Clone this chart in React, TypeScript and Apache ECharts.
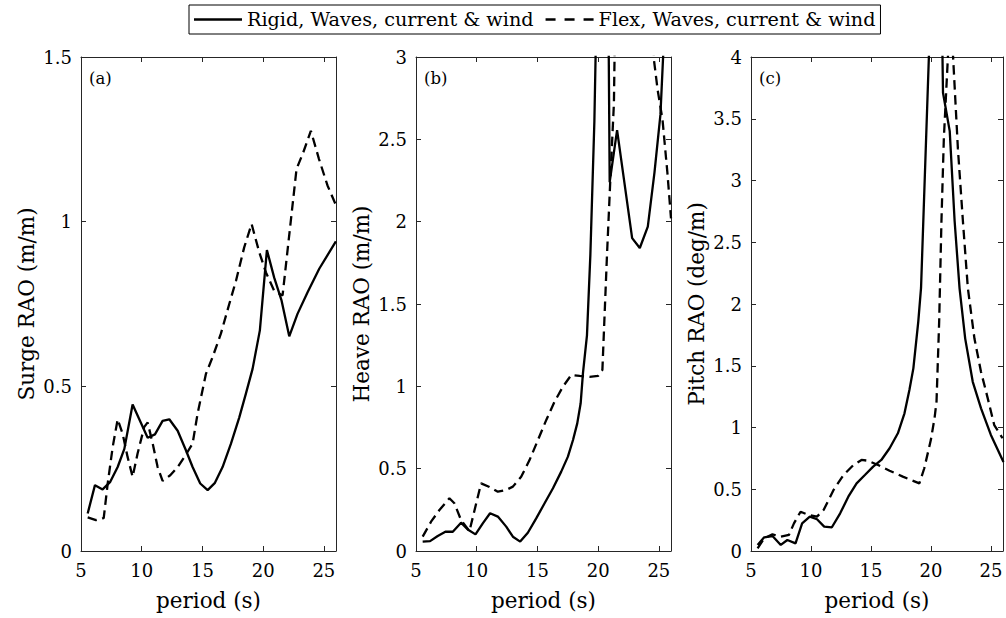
import React, { useEffect, useRef } from 'react';
import * as echarts from 'echarts';

const legendNames = ['Rigid, Waves, current & wind', 'Flex, Waves, current & wind'];
const panelTags = ['(a)', '(b)', '(c)'];
const yLabels = ['Surge RAO (m/m)', 'Heave RAO (m/m)', 'Pitch RAO (deg/m)'];
const xLabel = 'period (s)';
const periodTicks = [5, 10, 15, 20, 25];
const yMaxes = [1.5, 3, 4];

const surgeRigid = [
  [5.55, 0.114], [6.15, 0.2], [6.78, 0.187], [7.41, 0.21], [8.02, 0.255], [8.57, 0.31],
  [9.25, 0.445], [10.49, 0.344], [11.09, 0.354], [11.72, 0.395], [12.27, 0.4], [12.96, 0.365],
  [13.64, 0.306], [14.19, 0.255], [14.82, 0.205], [15.43, 0.185], [16.03, 0.207], [16.66, 0.255],
  [17.35, 0.326], [18.03, 0.405], [18.58, 0.478], [19.13, 0.553], [19.73, 0.67], [20.31, 0.914],
  [20.91, 0.83], [21.52, 0.76], [22.15, 0.652], [22.83, 0.72], [23.66, 0.786], [24.62, 0.857],
  [25.99, 0.94],
];
const surgeFlex = [
  [5.55, 0.102], [6.23, 0.094], [6.87, 0.1], [7.2, 0.205], [7.61, 0.316], [8.02, 0.4],
  [8.43, 0.356], [8.84, 0.285], [9.25, 0.225], [9.66, 0.296], [10.21, 0.377], [10.49, 0.39],
  [10.9, 0.327], [11.31, 0.255], [11.72, 0.213], [12.35, 0.23], [12.96, 0.255], [13.56, 0.288],
  [14.19, 0.326], [14.6, 0.417], [15.29, 0.538], [15.84, 0.589], [16.52, 0.66], [17.21, 0.75],
  [17.76, 0.82], [18.44, 0.922], [19.05, 0.993], [19.68, 0.907], [20.23, 0.846], [20.91, 0.79],
  [21.6, 0.776], [22.75, 1.16], [23.3, 1.21], [23.93, 1.276], [24.6, 1.19], [25.3, 1.11],
  [26, 1.05],
];
const heaveRigid = [
  [5.55, 0.057], [6.16, 0.06], [6.79, 0.091], [7.42, 0.117], [8.03, 0.117], [8.71, 0.172],
  [9.26, 0.131], [9.9, 0.101], [10.5, 0.168], [11.1, 0.229], [11.74, 0.209], [12.43, 0.148],
  [12.98, 0.087], [13.58, 0.057], [14.21, 0.111], [14.9, 0.198], [15.59, 0.29], [16.28, 0.381],
  [16.96, 0.482], [17.51, 0.573], [17.93, 0.674], [18.28, 0.775], [18.56, 0.897], [18.75, 1.08],
  [19.08, 1.31], [19.36, 1.8], [19.69, 2.61], [20.35, 5.2], [20.87, 3.05], [20.95, 2.24],
  [21.56, 2.556], [22.8, 1.9], [23.43, 1.84], [24.09, 1.97], [24.64, 2.3], [25.13, 2.65],
  [25.6, 3.4], [26, 4.2],
];
const heaveFlex = [
  [5.55, 0.087], [6.24, 0.178], [6.93, 0.249], [7.75, 0.32], [8.16, 0.29], [8.71, 0.188],
  [9.4, 0.12], [10.36, 0.411], [11.05, 0.389], [11.74, 0.36], [12.43, 0.371], [12.98, 0.391],
  [13.66, 0.451], [14.35, 0.552], [15.04, 0.674], [15.73, 0.796], [16.41, 0.907], [17.1, 0.998],
  [17.79, 1.069], [18.48, 1.063], [19.3, 1.058], [19.99, 1.063], [20.35, 1.1], [20.73, 1.8],
  [21.0, 2.25], [21.3, 2.72], [21.9, 6], [23.0, 6], [24.0, 4.0], [24.6, 2.98], [24.9, 2.8],
  [25.3, 2.62], [25.7, 2.3], [26, 2.02],
];
const pitchRigid = [
  [5.55, 0.049], [6.1, 0.111], [6.79, 0.121], [7.48, 0.049], [8.03, 0.089], [8.71, 0.062],
  [9.26, 0.224], [9.9, 0.278], [10.5, 0.257], [11.1, 0.197], [11.74, 0.192], [12.43, 0.305],
  [13.11, 0.44], [13.8, 0.548], [14.49, 0.615], [15.18, 0.683], [15.86, 0.737], [16.55, 0.832],
  [17.24, 0.953], [17.79, 1.115], [18.2, 1.304], [18.53, 1.479], [18.94, 1.857], [19.17, 2.13],
  [19.83, 4.02], [20.4, 10], [20.95, 4.05], [21.0, 3.71], [21.56, 3.4], [21.97, 2.67],
  [22.38, 2.127], [22.85, 1.72], [23.48, 1.37], [24.17, 1.155], [24.99, 0.94], [26.04, 0.72],
];
const pitchFlex = [
  [5.55, 0.022], [6.1, 0.103], [6.79, 0.135], [7.48, 0.116], [8.16, 0.13], [8.58, 0.224],
  [9.13, 0.318], [9.81, 0.292], [10.5, 0.278], [11.05, 0.332], [11.88, 0.494], [12.7, 0.615],
  [13.53, 0.696], [14.21, 0.737], [14.76, 0.731], [15.59, 0.696], [16.55, 0.65], [17.65, 0.602],
  [19.03, 0.548], [19.44, 0.67], [19.99, 0.9], [20.3, 1.08], [20.46, 1.21], [20.68, 1.857],
  [20.87, 2.67], [21.07, 3.34], [21.42, 4.02], [21.62, 7], [21.83, 4.02], [22.24, 3.26],
  [22.66, 2.67], [23.07, 2.13], [23.62, 1.72], [24.17, 1.45], [24.72, 1.24], [25.27, 1.02],
  [25.96, 0.913],
];

const rigidSets = [surgeRigid, heaveRigid, pitchRigid];
const flexSets = [surgeFlex, heaveFlex, pitchFlex];

const FONT = '"DejaVu Serif", serif';
const AXIS_COLOR = '#262626';
const GRID_LEFTS = [81, 416, 751];
const GRID_TOP = 57;
const GRID_W = 255;
const GRID_H = 494;

// legend icons: a solid bar, and three dashes, both 48 x 2.6
const ICON_SOLID = 'path://M0,0 L48,0 L48,2.6 L0,2.6 Z';
const ICON_DASHED =
  'path://M0,0 L10,0 L10,2.6 L0,2.6 Z M19,0 L29,0 L29,2.6 L19,2.6 Z M38,0 L48,0 L48,2.6 L38,2.6 Z';

export default function App() {
  const ref = useRef<HTMLDivElement>(null);

  useEffect(() => {
    const chart = echarts.init(ref.current as HTMLDivElement, null, { renderer: 'svg' });

    const grids: any[] = [];
    const xAxes: any[] = [];
    const yAxes: any[] = [];
    const series: any[] = [];
    const graphics: any[] = [];

    const axisLine = { show: true, onZero: false, lineStyle: { color: AXIS_COLOR, width: 1 } };
    const axisTick = { show: true, inside: true, length: 5, lineStyle: { color: AXIS_COLOR, width: 1 } };

    for (let i = 0; i < 3; i++) {
      grids.push({ left: GRID_LEFTS[i], top: GRID_TOP, width: GRID_W, height: GRID_H, containLabel: false });
      xAxes.push({
        gridIndex: i, type: 'value', position: 'bottom', min: 5, max: 26, interval: 5,
        name: xLabel, nameLocation: 'middle', nameGap: 38,
        nameTextStyle: { fontFamily: FONT, fontSize: 21.5, color: '#000' },
        axisLine, axisTick,
        axisLabel: {
          show: true, margin: 10, fontFamily: FONT, fontSize: 18, color: '#000',
          formatter: (v: number) => (periodTicks.includes(v) ? String(v) : ''),
        },
        splitLine: { show: false },
      });
      xAxes.push({
        gridIndex: i, type: 'value', position: 'top', min: 5, max: 26, interval: 5,
        axisLine, axisTick, axisLabel: { show: false }, splitLine: { show: false },
      });
      yAxes.push({
        gridIndex: i, type: 'value', position: 'left', min: 0, max: yMaxes[i], interval: 0.5,
        name: yLabels[i], nameLocation: 'middle', nameGap: 44, nameRotate: 90,
        nameTextStyle: { fontFamily: FONT, fontSize: 21.5, color: '#000' },
        axisLine, axisTick,
        axisLabel: { show: true, margin: 9, fontFamily: FONT, fontSize: 18, color: '#000' },
        splitLine: { show: false },
      });
      yAxes.push({
        gridIndex: i, type: 'value', position: 'right', min: 0, max: yMaxes[i], interval: 0.5,
        axisLine, axisTick, axisLabel: { show: false }, splitLine: { show: false },
      });
      series.push({
        type: 'line', name: legendNames[0], xAxisIndex: 2 * i, yAxisIndex: 2 * i,
        data: rigidSets[i], symbol: 'none', clip: true, z: 3,
        lineStyle: { color: '#000', width: 2.3, type: 'solid' },
        itemStyle: { color: '#000' },
      });
      series.push({
        type: 'line', name: legendNames[1], xAxisIndex: 2 * i, yAxisIndex: 2 * i,
        data: flexSets[i], symbol: 'none', clip: true, z: 3,
        lineStyle: { color: '#000', width: 2.3, type: [9.5, 5.5] },
        itemStyle: { color: '#000' },
      });
      graphics.push({
        type: 'text', left: GRID_LEFTS[i] + 8, top: 70,
        style: { text: panelTags[i], fontFamily: FONT, fontSize: 16.5, fill: '#000' },
      });
    }

    chart.setOption({
      animation: false,
      backgroundColor: '#fff',
      grid: grids,
      xAxis: xAxes,
      yAxis: yAxes,
      series,
      graphic: graphics,
      legend: {
        left: 189, top: 5, orient: 'horizontal',
        itemWidth: 48, itemHeight: 21, itemGap: 12,
        padding: 5, borderColor: '#000', borderWidth: 1, backgroundColor: '#fff',
        itemStyle: { color: '#000', borderWidth: 0 },
        textStyle: { fontFamily: FONT, fontSize: 19.2, color: '#000' },
        data: [
          { name: legendNames[0], icon: ICON_SOLID },
          { name: legendNames[1], icon: ICON_DASHED },
        ],
      },
    });

    return () => chart.dispose();
  }, []);

  return <div ref={ref} style={{ position: 'absolute', left: 0, top: 0, width: 1006, height: 618 }} />;
}
